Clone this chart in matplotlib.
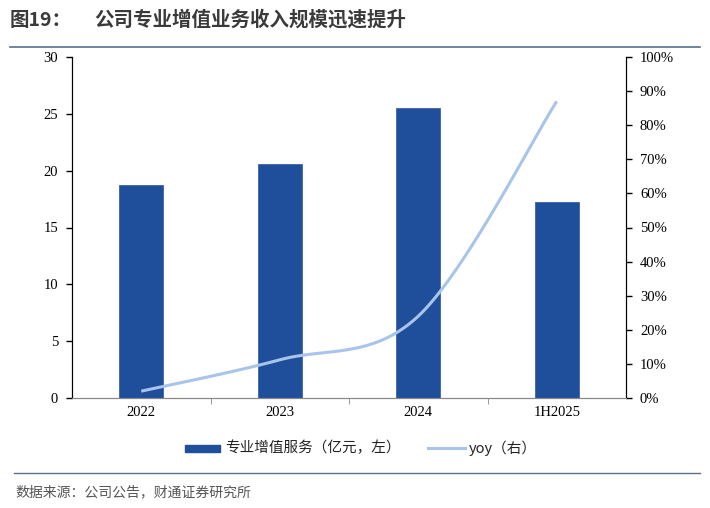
import numpy as np
import matplotlib
matplotlib.use("Agg")
import matplotlib.pyplot as plt
from matplotlib.patches import Rectangle
from matplotlib.lines import Line2D

plt.rcParams['font.family'] = ['Noto Sans CJK SC', 'DejaVu Sans']

categories = ['2022', '2023', '2024', '1H2025']
revenue = [18.7, 20.6, 25.5, 17.2]          # 专业增值服务（亿元）
yoy = [2.0, 11.2, 24.0, 87.0]               # %
left_ticks = [0, 5, 10, 15, 20, 25, 30]
right_ticks = [0, 10, 20, 30, 40, 50, 60, 70, 80, 90, 100]

W, H = 710, 508
fig = plt.figure(figsize=(W / 100, H / 100), dpi=100)
ax_l, ax_r, ax_b, ax_t = 72, 626, 398, 57
ax = fig.add_axes([ax_l / W, 1 - ax_b / H, (ax_r - ax_l) / W, (ax_b - ax_t) / H])
ax2 = ax.twinx()

bar_color = '#1F4E9A'
line_color = '#A9C4EB'
serif = ['Liberation Serif', 'DejaVu Serif']

x = np.arange(len(categories))
ax.bar(x, revenue, width=0.32, color=bar_color, edgecolor='#3a64aa', linewidth=0.6, zorder=2)
ax.set_xlim(-0.5, len(categories) - 0.5)
ax.set_ylim(0, 30)
ax.set_yticks(left_ticks)
ax.set_yticklabels([str(t) for t in left_ticks], fontsize=10.5, family=serif)
ax.set_xticks(x)
ax.set_xticklabels(categories, fontsize=10.5, family=serif)
ax.tick_params(axis='x', length=0, pad=6)
ax.set_xticks(np.arange(0.5, len(categories) - 0.5, 1), minor=True)
ax.tick_params(axis='x', which='minor', length=4, color='#888888', direction='out')
ax.tick_params(axis='y', length=4, width=1, direction='out', pad=6)

# smoothed line (Excel-like Bezier smoothing in display-proportional space)
sx, sy = 138.5, 3.41
px = x * sx
py = np.array(yoy) * sy
pts = np.column_stack([px, py])
curve = []
n = len(pts)
for i in range(n - 1):
    p0 = pts[i - 1] if i > 0 else pts[i]
    p1 = pts[i]
    p2 = pts[i + 1]
    p3 = pts[i + 2] if i + 2 < n else pts[i + 1]
    c1 = p1 + (p2 - p0) / 6
    c2 = p2 - (p3 - p1) / 6
    t = np.linspace(0, 1, 40)[:, None]
    seg = (1 - t) ** 3 * p1 + 3 * (1 - t) ** 2 * t * c1 + 3 * (1 - t) * t ** 2 * c2 + t ** 3 * p2
    curve.append(seg if i == 0 else seg[1:])
curve = np.vstack(curve)
ax2.plot(curve[:, 0] / sx, curve[:, 1] / sy, color=line_color, linewidth=2.2, zorder=3,
         solid_capstyle='butt')
ax2.set_ylim(0, 100)
ax2.set_yticks(right_ticks)
ax2.set_yticklabels([f'{t}%' for t in right_ticks], fontsize=10.5, family=serif)
ax2.tick_params(axis='y', length=4, width=1, direction='out', pad=6)

for a in (ax, ax2):
    a.spines['top'].set_visible(False)
    a.spines['bottom'].set_color('#888888')
    a.spines['left'].set_color('#000000')
    a.spines['right'].set_color('#000000')
    a.set_facecolor('none')
ax2.spines['left'].set_visible(True)

# title
fig.text(10 / W, 1 - 20 / H, '图19：', fontsize=14,
         fontweight='bold', color='#3a3a3a', va='center', ha='left')
fig.text(94 / W, 1 - 20 / H, '公司专业增值业务收入规模迅速提升', fontsize=14,
         fontweight='bold', color='#3a3a3a', va='center', ha='left')
fig.add_artist(Line2D([10 / W, 700 / W], [1 - 47 / H, 1 - 47 / H], color='#5a6e90',
                      linewidth=1.2, transform=fig.transFigure))

# legend
ly = 1 - 448 / H
fig.add_artist(Rectangle((185 / W, ly - 3.5 / H), 35 / W, 7 / H, color=bar_color,
                         transform=fig.transFigure))
fig.text(225 / W, ly, '专业增值服务（亿元，左）', fontsize=10.5, color='#222222', va='center', ha='left')
fig.add_artist(Line2D([428 / W, 465 / W], [ly, ly], color=line_color, linewidth=2.2,
                      transform=fig.transFigure))
fig.text(469 / W, ly, 'yoy（右）', fontsize=10.5, color='#222222', va='center', ha='left')

# source
fig.add_artist(Line2D([14 / W, 700 / W], [1 - 473 / H, 1 - 473 / H], color='#5a6e90',
                      linewidth=1.0, transform=fig.transFigure))
fig.text(15 / W, 1 - 492 / H, '数据来源：公司公告，财通证券研究所', fontsize=10, color='#555555',
         va='center', ha='left')

fig.savefig('out.png', dpi=100)
